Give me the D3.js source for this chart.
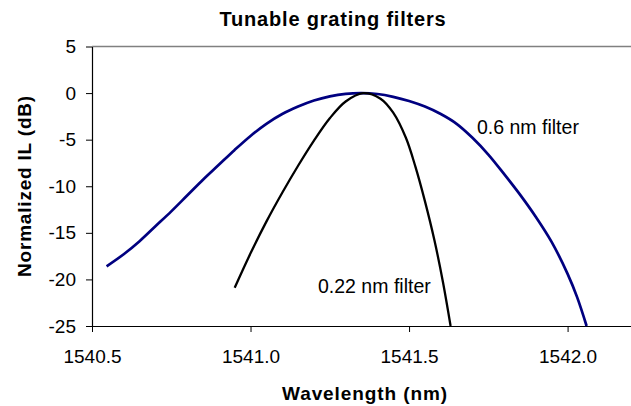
<!DOCTYPE html>
<html>
<head>
<meta charset="utf-8">
<script src="https://cdn.jsdelivr.net/npm/d3@7"></script>
<style>
  html, body { margin: 0; padding: 0; background: #fff; }
  svg { display: block; font-family: "Liberation Sans", Arial, sans-serif; }
</style>
</head>
<body>
<svg id="chart" width="631" height="406"></svg>
<script>
// Filter response traces: wavelength (nm) and normalized insertion loss (dB)
const wide = [
  [1540.546, -18.6], [1540.60, -17.3], [1540.65, -15.9], [1540.70, -14.3],
  [1540.75, -12.7], [1540.80, -11.0], [1540.85, -9.3], [1540.90, -7.7],
  [1540.95, -6.1], [1541.00, -4.6], [1541.05, -3.3], [1541.10, -2.25],
  [1541.15, -1.45], [1541.20, -0.8], [1541.25, -0.35], [1541.30, -0.08],
  [1541.35, 0.0], [1541.40, -0.1], [1541.45, -0.4], [1541.50, -0.85],
  [1541.55, -1.45], [1541.60, -2.25], [1541.65, -3.3], [1541.70, -4.8],
  [1541.75, -6.6], [1541.80, -8.7], [1541.85, -10.9], [1541.90, -13.3],
  [1541.95, -16.0], [1542.00, -19.4], [1542.03, -21.9], [1542.06, -25.0]
];
const narrow = [
  [1540.95, -20.9], [1541.00, -17.2], [1541.05, -13.8], [1541.10, -10.7],
  [1541.15, -7.8], [1541.20, -5.1], [1541.25, -2.7], [1541.30, -0.9],
  [1541.355, 0.0], [1541.41, -0.6], [1541.45, -2.1], [1541.49, -4.8],
  [1541.52, -7.9], [1541.55, -11.6], [1541.58, -15.8], [1541.607, -20.3],
  [1541.631, -25.0]
];
const xTicks = [1540.5, 1541.0, 1541.5, 1542.0];
const yTicks = [5, 0, -5, -10, -15, -20, -25];
const labels = ["0.6 nm filter", "0.22 nm filter"];
const title = "Tunable grating filters";
const xTitle = "Wavelength (nm)";
const yTitle = "Normalized IL (dB)";

const svg = d3.select("#chart");
const W = 631;
const left = 92;

const x = d3.scaleLinear().domain([1540.5, 1542.2]).range([left, W]);
const y = d3.scaleLinear().domain([-25, 5]).range([326, 46.5]);

// top border of the plot area
svg.append("line")
  .attr("x1", left).attr("x2", W)
  .attr("y1", y(5)).attr("y2", y(5))
  .attr("stroke", "#808080").attr("stroke-width", 1.5);

const xAxis = svg.append("g")
  .attr("transform", `translate(0,${y(-25)})`)
  .call(d3.axisBottom(x).tickValues(xTicks).tickFormat(d3.format(".1f")).tickSize(6).tickSizeOuter(0));
const yAxis = svg.append("g")
  .attr("transform", `translate(${left},0)`)
  .call(d3.axisLeft(y).tickValues(yTicks).tickFormat(d3.format("d")).tickSize(6).tickSizeOuter(0));

[xAxis, yAxis].forEach(g => {
  g.select(".domain").attr("stroke", "#000").attr("stroke-width", 1.2);
  g.selectAll(".tick line").attr("stroke", "#000").attr("stroke-width", 1);
  g.selectAll(".tick text").attr("fill", "#000").style("font-size", "19px");
});
xAxis.selectAll(".tick text").attr("y", 37).attr("dy", null);
yAxis.selectAll(".tick text").attr("x", -16).text(d => d < 0 ? "-" + Math.abs(d) : d);

const line = d3.line().x(d => x(d[0])).y(d => y(d[1])).curve(d3.curveCatmullRom.alpha(0.5));

const plot = svg.append("g");
plot.append("path").datum(wide)
  .attr("d", line).attr("fill", "none")
  .attr("stroke", "#000080").attr("stroke-width", 2.7);
plot.append("path").datum(narrow)
  .attr("d", line).attr("fill", "none")
  .attr("stroke", "#000").attr("stroke-width", 2.3);

svg.append("text").attr("x", 477).attr("y", 134)
  .style("font-size", "19.5px").text(labels[0]);
svg.append("text").attr("x", 318).attr("y", 293)
  .style("font-size", "19.5px").text(labels[1]);

svg.append("text").attr("x", 333).attr("y", 26)
  .attr("text-anchor", "middle").style("font-size", "20px").style("font-weight", "bold")
  .style("letter-spacing", "0.8px")
  .text(title);
svg.append("text").attr("x", 365).attr("y", 400)
  .attr("text-anchor", "middle").style("font-size", "19px").style("font-weight", "bold")
  .style("letter-spacing", "0.9px")
  .text(xTitle);
svg.append("text").attr("transform", "translate(31,186) rotate(-90)")
  .attr("text-anchor", "middle").style("font-size", "19px").style("font-weight", "bold")
  .style("letter-spacing", "0.8px")
  .text(yTitle);
</script>
</body>
</html>
